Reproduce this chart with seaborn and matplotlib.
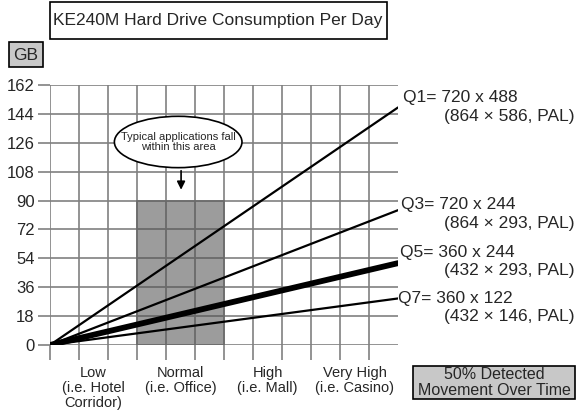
import matplotlib
matplotlib.use("Agg")
import matplotlib.pyplot as plt
from matplotlib.patches import Ellipse, Rectangle
import seaborn as sns
import pandas as pd

# ---- data ----
series = ["Q1", "Q3", "Q5", "Q7"]
x_points = [0, 12]
gb_end = [148, 84, 51, 29]
widths = [1.6, 1.6, 4.2, 1.6]
label_main = ["Q1= 720 x 488", "Q3= 720 x 244", "Q5= 360 x 244", "Q7= 360 x 122"]
label_pal = ["(864 \u00d7 586, PAL)", "(864 \u00d7 293, PAL)", "(432 \u00d7 293, PAL)", "(432 \u00d7 146, PAL)"]
y_ticks = [0, 18, 36, 54, 72, 90, 108, 126, 144, 162]
categories = ["Low\n(i.e. Hotel\nCorridor)", "Normal\n(i.e. Office)", "High\n(i.e. Mall)", "Very High\n(i.e. Casino)"]
category_pos = [1.5, 4.5, 7.5, 10.5]
typical_x = [3, 6]
typical_gb = 90

rows = []
for s, v in zip(series, gb_end):
    rows.append({"series": s, "x": x_points[0], "gb": 0})
    rows.append({"series": s, "x": x_points[1], "gb": v})
df = pd.DataFrame(rows)

sns.set_style("white")
plt.rcParams['font.family'] = ['Liberation Sans', 'DejaVu Sans']

W, H = 579, 411
fig = plt.figure(figsize=(W / 100, H / 100), dpi=100)
L, R, T, B = 50, 398, 85, 345
ax = fig.add_axes([L / W, 1 - B / H, (R - L) / W, (B - T) / H])

def fx(px):
    return px / W

def fy(py):
    return 1 - py / H

grid_c = "#808080"
# shaded region
ax.add_patch(Rectangle((typical_x[0], 0), typical_x[1] - typical_x[0], typical_gb,
                       facecolor="#9c9c9c", edgecolor="none", zorder=0))
# grid
for gx in range(0, 12):
    ax.axvline(gx, color=grid_c, lw=1.2, zorder=1)
for gy in y_ticks:
    ax.axhline(gy, color=grid_c, lw=1.2, zorder=1)
# darker grid segments over the shaded block
for gx in range(typical_x[0], typical_x[1] + 1):
    ax.plot([gx, gx], [0, typical_gb], color="#6a6a6a", lw=1.2, zorder=1.5)
for gy in [v for v in y_ticks if v <= typical_gb]:
    ax.plot(typical_x, [gy, gy], color="#6a6a6a", lw=1.2, zorder=1.5)

for s, w in zip(series, widths):
    sns.lineplot(data=df[df.series == s], x="x", y="gb", color="black", lw=w, ax=ax,
                 legend=False, zorder=3)

ax.set_xlim(0, 12)
ax.set_ylim(0, 162)
for sp in ax.spines.values():
    sp.set_visible(False)
ax.set_xlabel("")
ax.set_ylabel("")
ax.set_yticks(y_ticks)
ax.set_yticklabels([str(v) for v in y_ticks], fontsize=12)
ax.tick_params(axis="y", length=9, color=grid_c, width=1.2, pad=2, left=True)
ax.set_xticks(list(range(0, 12)), minor=True)
ax.set_xticks(category_pos)
ax.set_xticklabels(categories, fontsize=10.5, linespacing=1.12)
ax.tick_params(axis="x", which="minor", length=11, color=grid_c, width=1.2, bottom=True)
ax.tick_params(axis="x", which="major", length=0, pad=15, bottom=False)

# ellipse callout
ax.add_patch(Ellipse((4.42, 126.5), 4.4, 32, facecolor="white", edgecolor="black", lw=1.2, zorder=4))
ax.text(4.42, 126.5, "Typical applications fall\nwithin this area", ha="center", va="center",
        fontsize=8, linespacing=1.0, zorder=5)
ax.annotate("", xy=(4.52, 95), xytext=(4.52, 110.3),
            arrowprops=dict(arrowstyle="-|>", color="black", lw=1.2, mutation_scale=12), zorder=5)

# right labels
main_y = [97, 205, 252, 298]
pal_y = [117, 223, 270, 317]
main_x = [403, 401, 400, 398]
for m, p, my, py, mx in zip(label_main, label_pal, main_y, pal_y, main_x):
    fig.text(fx(mx), fy(my), m, fontsize=12.5, ha="left", va="center")
    fig.text(fx(444), fy(py), p, fontsize=12.5, ha="left", va="center")

# title box
fig.add_artist(Rectangle((fx(50), fy(39)), fx(337), 37 / H, transform=fig.transFigure,
                         facecolor="white", edgecolor="black", lw=1.2))
fig.text(fx(218), fy(20.5), "KE240M Hard Drive Consumption Per Day", fontsize=12.5,
         ha="center", va="center")

# GB box
fig.add_artist(Rectangle((fx(9), fy(67)), fx(34), 25 / H, transform=fig.transFigure,
                         facecolor="#c8c8c8", edgecolor="black", lw=1.2))
fig.text(fx(26), fy(55), "GB", fontsize=12.5, ha="center", va="center")

# bottom right box
fig.add_artist(Rectangle((fx(413), fy(399)), fx(162), 33 / H, transform=fig.transFigure,
                         facecolor="#c8c8c8", edgecolor="black", lw=1.2))
fig.text(fx(494), fy(382.5), "50% Detected\nMovement Over Time", fontsize=11.5, ha="center",
         va="center", linespacing=1.05)

fig.savefig("out.png", dpi=100)
